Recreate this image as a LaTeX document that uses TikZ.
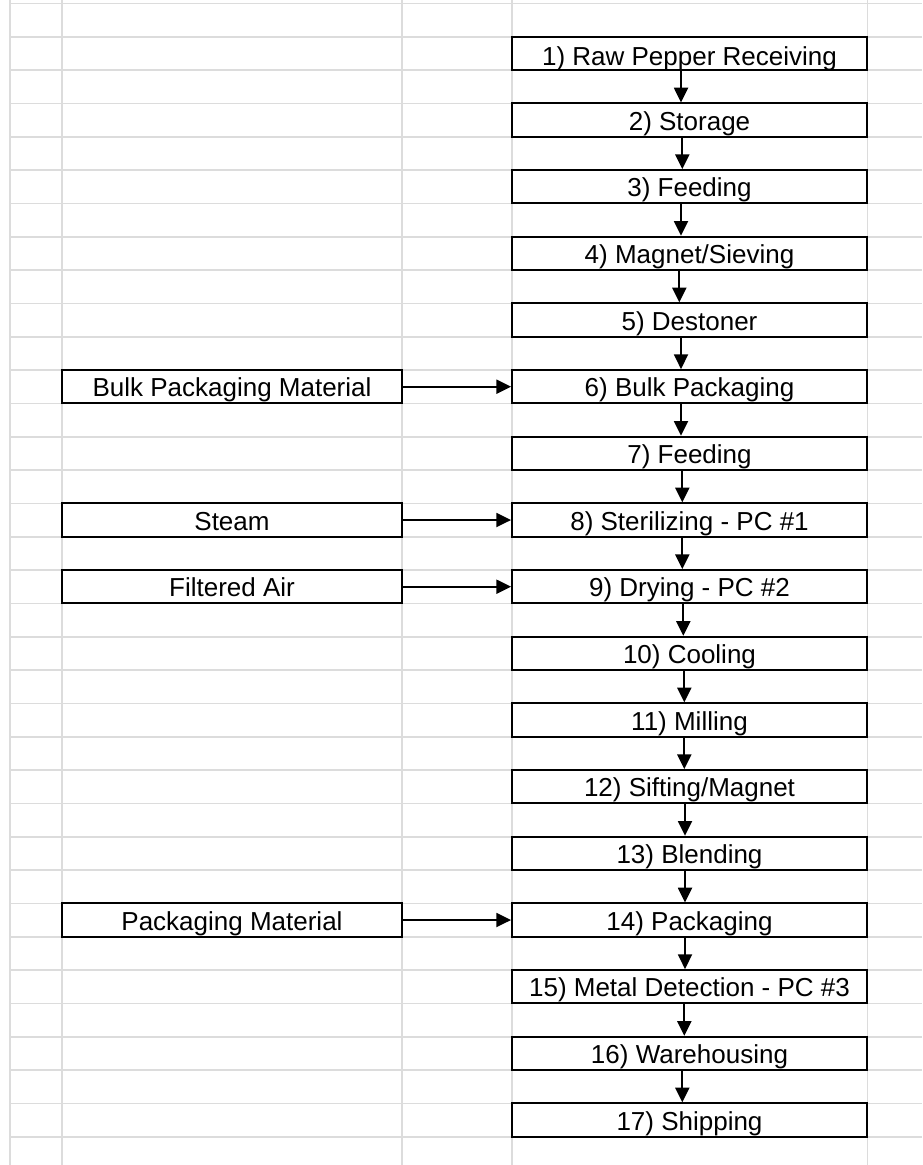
\documentclass[tikz,border=0pt]{standalone}
\usepackage{fontspec}
\setmainfont{Liberation Sans}
\usetikzlibrary{arrows.meta}
\definecolor{gridc}{RGB}{220,220,220}
\begin{document}
\begin{tikzpicture}[x=0.75pt,y=-0.75pt,
  stepbox/.style={draw,line width=1.4pt,fill=white,minimum width=266.25pt,minimum height=25pt,
    inner sep=0pt,text height=20.1pt,text depth=4.9pt,font=\fontsize{19.5}{23}\selectfont},
  srcbox/.style={stepbox,minimum width=255pt},
  flow/.style={line width=1.4pt,-{Triangle[length=11pt,width=10.5pt]}},
  gridline/.style={gridc,line width=1.3pt}]
\useasboundingbox (0,0) rectangle (922,1165);
\fill[white] (0,0) rectangle (922,1165);
% spreadsheet grid
\foreach \k in {0,...,34} \draw[gridline] (10,{3.4+33.333*\k}) -- (922,{3.4+33.333*\k});
\foreach \x in {10,62,402,512,867.5} \draw[gridline] (\x,0) -- (\x,1165);
% process steps
\node[stepbox,text height=21.4pt,text depth=3.6pt] (b1) at (689.5,53.4) {1) Raw Pepper Receiving};
\node[stepbox] (b2) at (689.5,120.0) {2) Storage};
\node[stepbox] (b3) at (689.5,186.7) {3) Feeding};
\node[stepbox] (b4) at (689.5,253.4) {4) Magnet/Sieving};
\node[stepbox] (b5) at (689.5,320.0) {5) Destoner};
\node[stepbox] (b6) at (689.5,386.7) {6) Bulk Packaging};
\node[stepbox] (b7) at (689.5,453.4) {7) Feeding};
\node[stepbox] (b8) at (689.5,520.0) {8) Sterilizing - PC \#1};
\node[stepbox] (b9) at (689.5,586.7) {9) Drying - PC \#2};
\node[stepbox] (b10) at (689.5,653.4) {10) Cooling};
\node[stepbox] (b11) at (689.5,720.0) {11) Milling};
\node[stepbox] (b12) at (689.5,786.7) {12) Sifting/Magnet};
\node[stepbox] (b13) at (689.5,853.4) {13) Blending};
\node[stepbox] (b14) at (689.5,920.0) {14) Packaging};
\node[stepbox] (b15) at (689.5,986.7) {15) Metal Detection - PC \#3};
\node[stepbox] (b16) at (689.5,1053.4) {16) Warehousing};
\node[stepbox] (b17) at (689.5,1120.0) {17) Shipping};
% inputs
\node[srcbox] (s6) at (232,386.7) {Bulk Packaging Material};
\node[srcbox] (s8) at (232,520.0) {Steam};
\node[srcbox] (s9) at (232,586.7) {Filtered Air};
\node[srcbox] (s14) at (232,920.0) {Packaging Material};
% vertical flow
\foreach \i/\o in {1/-8.5,2/-7.2,3/-8.5,4/-10.2,5/-8.5,6/-8.5,7/-7.2,8/-7.2,9/-6.2,10/-5.2,11/-5.2,12/-4.5,13/-4.5,14/-4.5,15/-5.2,16/-7.2}{
  \pgfmathtruncatemacro{\j}{\i+1}
  \draw[flow] ([xshift=\o*0.75pt]b\i.south) -- ([xshift=\o*0.75pt]b\j.north);
}
% input arrows
\draw[flow] (s6.east) -- (b6.west);
\draw[flow] (s8.east) -- (b8.west);
\draw[flow] (s9.east) -- (b9.west);
\draw[flow] (s14.east) -- (b14.west);
\end{tikzpicture}
\end{document}
